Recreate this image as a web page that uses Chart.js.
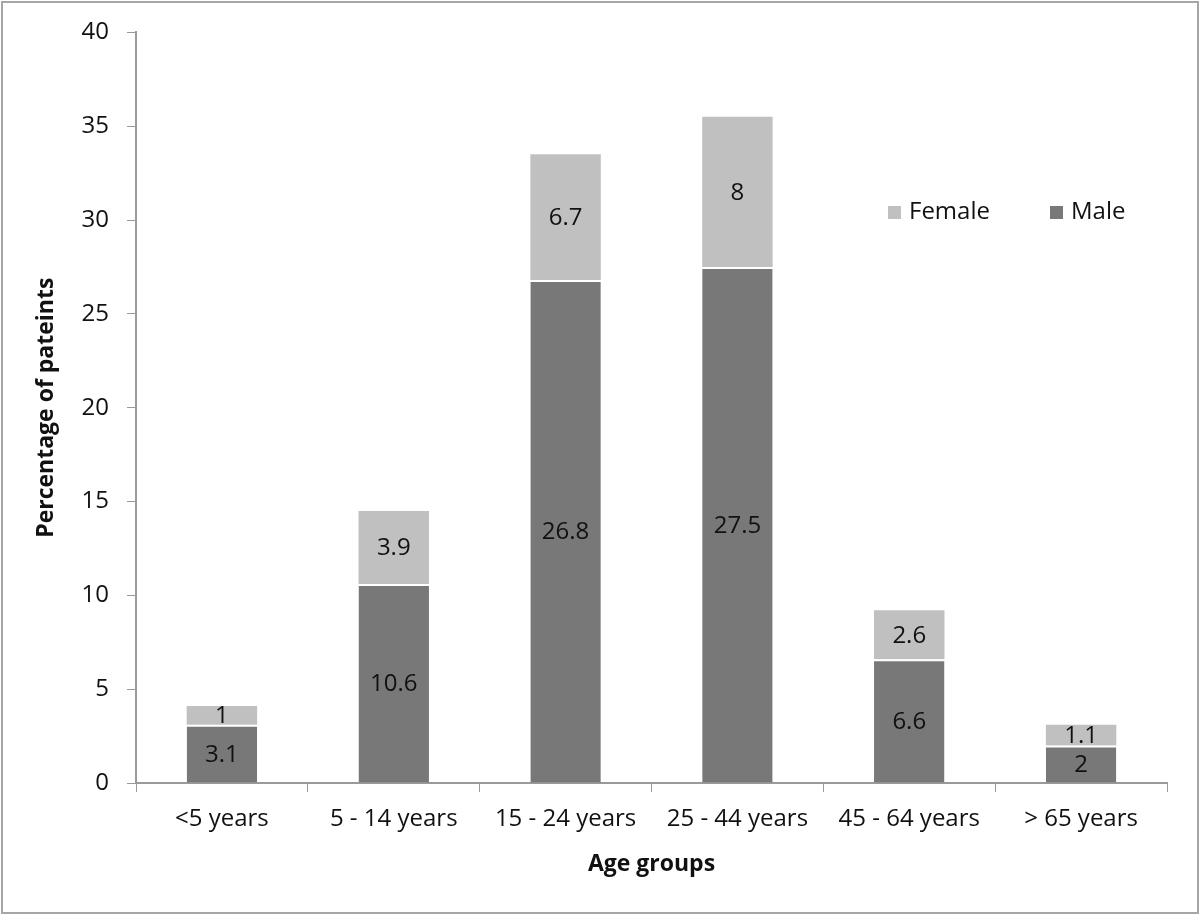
<!DOCTYPE html>
<html>
<head>
<meta charset="utf-8">
<script src="https://cdn.jsdelivr.net/npm/chart.js@4.4.1/dist/chart.umd.min.js"></script>
<style>
  html, body { margin: 0; padding: 0; background: #fff; }
  #wrap { width: 1200px; height: 915px; }
</style>
</head>
<body>
<div id="wrap"><canvas id="ageChart" width="1200" height="915"></canvas></div>
<script>
// Chart data
const ageGroups = ["<5 years", "5 - 14 years", "15 - 24 years", "25 - 44 years", "45 - 64 years", "> 65 years"];
const maleValues = [3.1, 10.6, 26.8, 27.5, 6.6, 2];
const femaleValues = [1, 3.9, 6.7, 8, 2.6, 1.1];
const yTicks = [0, 5, 10, 15, 20, 25, 30, 35, 40];

const FONT = "'Open Sans', sans-serif";
const axisGray = "#9a9a9a";

// Outer frame around the whole picture
const framePlugin = {
  id: "frame",
  beforeDraw(chart) {
    const c = chart.ctx;
    c.save();
    c.fillStyle = "#fff";
    c.fillRect(0, 0, chart.width, chart.height);
    c.strokeStyle = "#a6a6a6";
    c.lineWidth = 2;
    c.strokeRect(2, 2, chart.width - 4, chart.height - 4);
    c.restore();
  }
};

// Value labels centred in each segment
const valueLabels = {
  id: "valueLabels",
  afterDatasetsDraw(chart) {
    const c = chart.ctx;
    c.save();
    c.font = "24px " + FONT;
    c.fillStyle = "#111";
    c.textAlign = "center";
    c.textBaseline = "middle";
    chart.data.datasets.forEach((ds, i) => {
      chart.getDatasetMeta(i).data.forEach((bar, j) => {
        const p = bar.getProps(["x", "y", "base"], true);
        c.fillText(String(ds.data[j]), p.x, (p.y + p.base) / 2 + 1);
      });
    });
    c.restore();
  }
};

// Legend drawn inside the plot, Female first like the original
const insideLegend = {
  id: "insideLegend",
  afterDraw(chart) {
    const c = chart.ctx;
    const y = 212;
    const items = [
      { text: "Female", color: chart.data.datasets[1].backgroundColor, x: 888 },
      { text: "Male", color: chart.data.datasets[0].backgroundColor, x: 1050 }
    ];
    c.save();
    c.font = "24px " + FONT;
    c.textBaseline = "middle";
    c.textAlign = "left";
    items.forEach(it => {
      c.fillStyle = it.color;
      c.fillRect(it.x, y - 6, 13, 13);
      c.fillStyle = "#111";
      c.fillText(it.text, it.x + 21, y);
    });
    c.restore();
  }
};

let ctx = document.getElementById("ageChart").getContext("2d");
let ageChart = new Chart(ctx, {
  type: "bar",
  data: {
    labels: ageGroups,
    datasets: [
      {
        label: "Male",
        data: maleValues,
        backgroundColor: "#787878",
        borderColor: "#ffffff",
        borderWidth: { top: 2, left: 0, right: 0, bottom: 0 },
        borderSkipped: false,
        categoryPercentage: 1,
        barPercentage: 0.41,
      },
      {
        label: "Female",
        data: femaleValues,
        backgroundColor: "#c0c0c0",
        borderWidth: 0,
        categoryPercentage: 1,
        barPercentage: 0.41,
      }
    ]
  },
  options: {
    responsive: false,
    animation: false,
    layout: { padding: { left: 33, top: 32, right: 33, bottom: 37 } },
    plugins: {
      legend: { display: false },
      tooltip: { enabled: false }
    },
    scales: {
      x: {
        stacked: true,
        grid: { display: true, drawOnChartArea: false, drawTicks: true, tickLength: 9, color: axisGray, offset: true },
        border: { color: axisGray, width: 2 },
        ticks: { color: "#111", font: { family: FONT, size: 24 }, padding: 13, maxRotation: 0 },
        title: { display: true, text: "Age groups", color: "#111", font: { family: FONT, size: 23, weight: "bold" }, padding: 0 },
        afterFit(scale) { scale.height = 95; }
      },
      y: {
        stacked: true,
        min: 0,
        max: 40,
        afterBuildTicks(scale) { scale.ticks = yTicks.map(v => ({ value: v })); },
        grid: { display: true, drawOnChartArea: false, drawTicks: true, tickLength: 9, color: axisGray },
        border: { color: axisGray, width: 2 },
        ticks: { color: "#111", font: { family: FONT, size: 24 }, padding: 18 },
        title: { display: true, text: "Percentage of pateints", color: "#111", font: { family: FONT, size: 23, weight: "bold" }, padding: 0 },
        afterFit(scale) { scale.width = 103; }
      }
    }
  },
  plugins: [framePlugin, valueLabels, insideLegend]
});
</script>
</body>
</html>
